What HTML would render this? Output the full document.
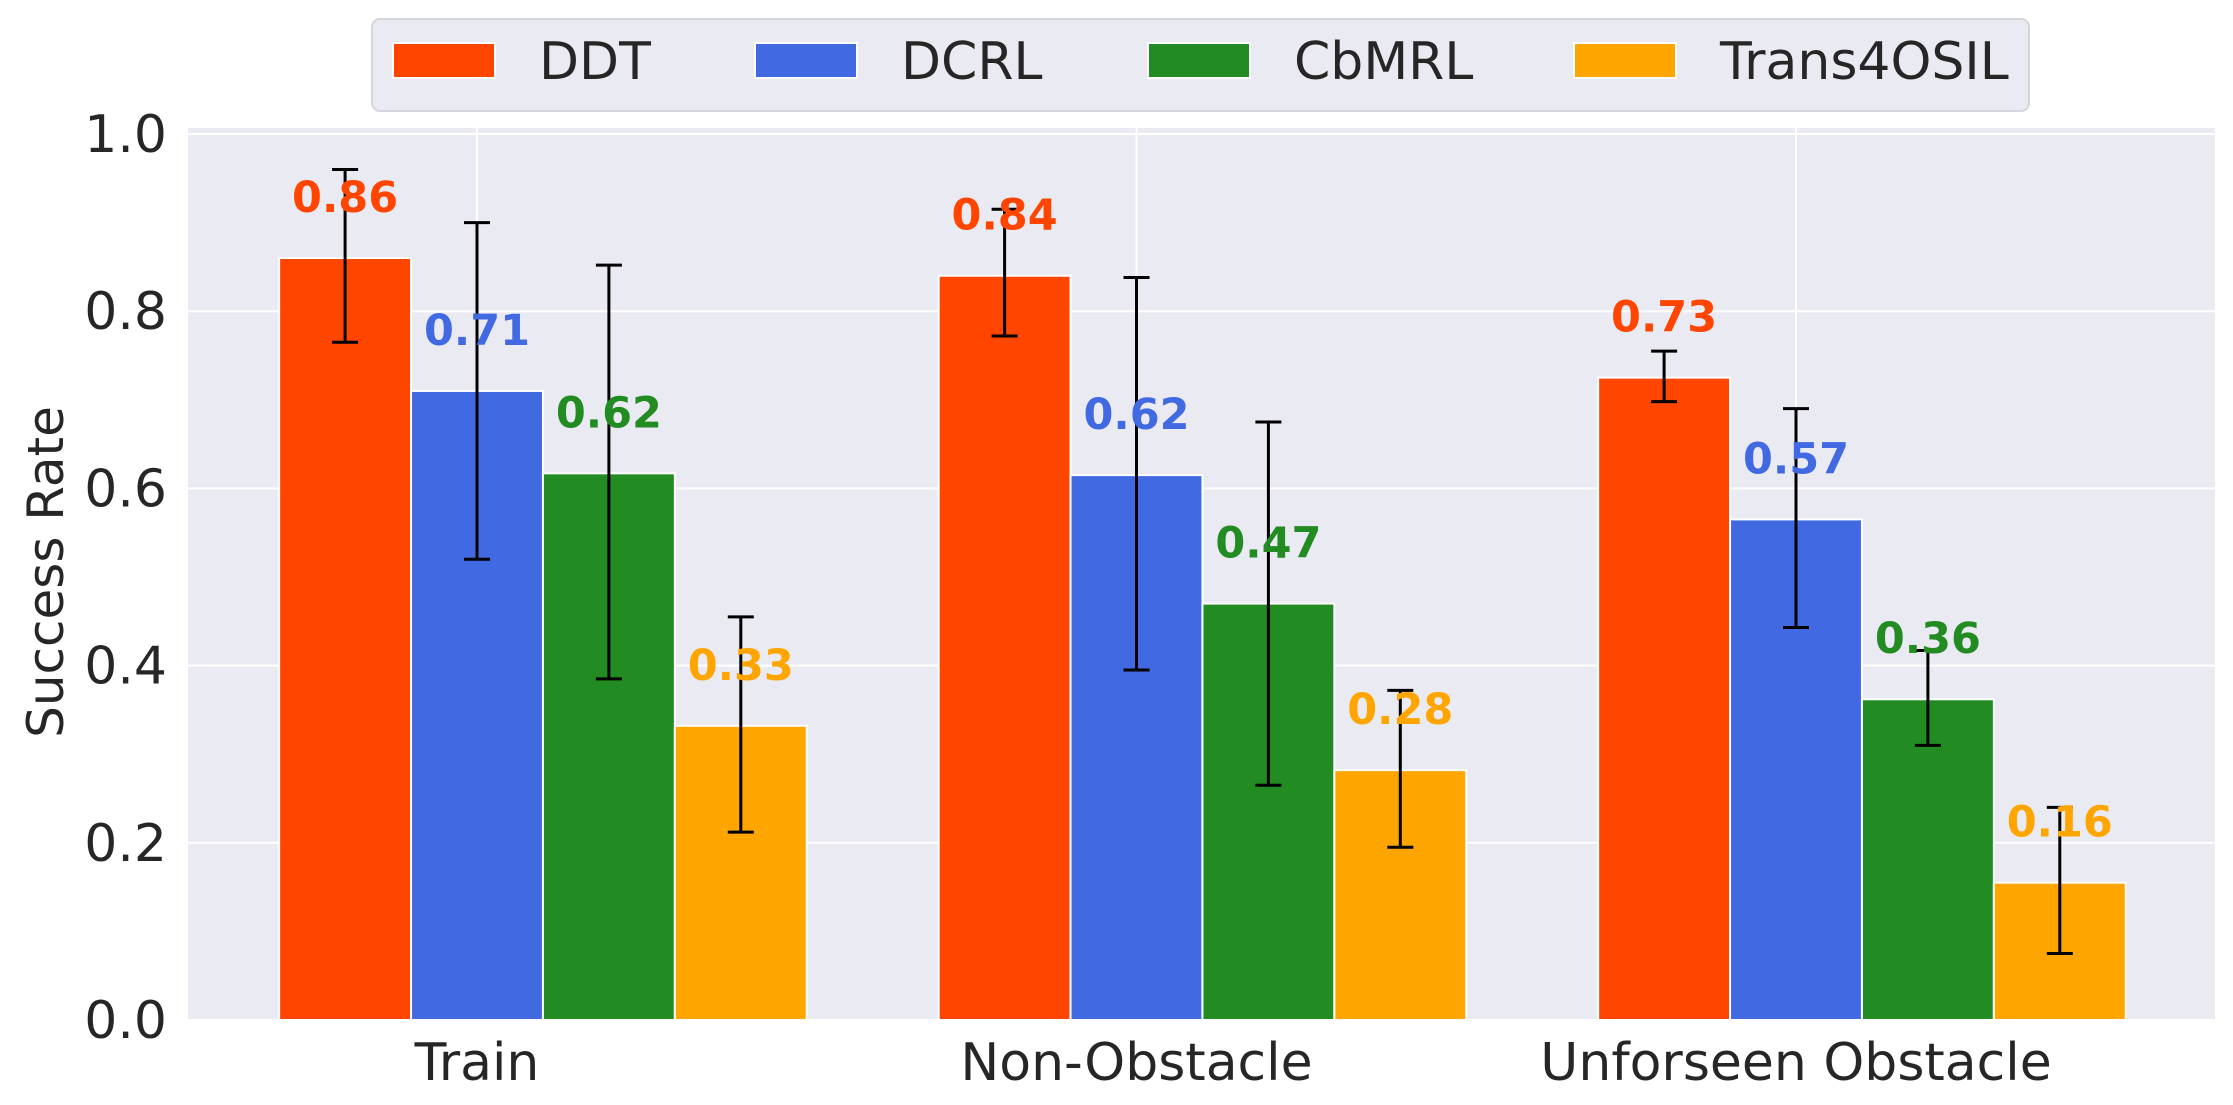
<!DOCTYPE html>
<html><head><meta charset="utf-8"><style>
body{margin:0;background:#fff}
svg text{font-family:"DejaVu Sans","Liberation Sans",sans-serif}
</style></head><body>
<svg id="chart" width="2233" height="1100" viewBox="0 0 2233 1100" xmlns="http://www.w3.org/2000/svg">
<rect x="188" y="128" width="2027" height="892" fill="#eaeaf2"/>
<g id="grid"></g><g id="bars"></g><g id="errs"></g><g id="labels"></g><g id="axes"></g>
<g id="legend"></g>
<text transform="translate(63,572) rotate(-90)" text-anchor="middle" font-size="50" fill="#262626">Success Rate</text>
</svg>
<script>
const categories=["Train","Non-Obstacle","Unforseen Obstacle"];
const series=["DDT","DCRL","CbMRL","Trans4OSIL"];
const colors=["#ff4500","#4169e1","#228b22","#ffa500"];
const ddt=[0.86,0.84,0.725];
const dcrl=[0.71,0.615,0.565];
const cbmrl=[0.617,0.47,0.362];
const trans=[0.332,0.282,0.155];
const ddtErr=[[0.765,0.96],[0.772,0.915],[0.698,0.755]];
const dcrlErr=[[0.52,0.90],[0.395,0.838],[0.443,0.69]];
const cbmrlErr=[[0.385,0.852],[0.265,0.675],[0.31,0.417]];
const transErr=[[0.212,0.455],[0.195,0.372],[0.075,0.24]];
const printed=[["0.86","0.84","0.73"],["0.71","0.62","0.57"],["0.62","0.47","0.36"],["0.33","0.28","0.16"]];
const yTicks=[0,0.2,0.4,0.6,0.8,1.0];
const vals=[ddt,dcrl,cbmrl,trans], errs=[ddtErr,dcrlErr,cbmrlErr,transErr];
const NS="http://www.w3.org/2000/svg";
const y=v=>1020-v*886;
const groupW=659.5, barW=131.9;
const x=(g,i)=>477+g*groupW+(i-1)*barW;
function mk(p,t,a){const e=document.createElementNS(NS,t);for(const k in a)e.setAttribute(k,a[k]);document.getElementById(p).appendChild(e);return e;}
yTicks.forEach(t=>{
 const l=mk('grid','line',{x1:188,x2:2215,y1:y(t),y2:y(t),stroke:'#fff','stroke-width':2});
 
 
 const tx=mk('axes','text',{x:167,y:y(t)+18,'text-anchor':'end','font-size':52,fill:'#262626'});
 
 
 tx.textContent=t.toFixed(1);
});
categories.forEach((c,g)=>{
 const l=mk('grid','line',{x1:x(g,1),x2:x(g,1),y1:128,y2:1020,stroke:'#fff','stroke-width':2});
 
 
 const tx=mk('axes','text',{x:x(g,1),y:1080,'text-anchor':'middle','font-size':52,fill:'#262626'});
 
 
 tx.textContent=c;
});
vals.forEach((arr,i)=>arr.forEach((v,g)=>{
 const cx=x(g,i);
 const r=mk('bars','rect',{x:cx-barW/2,y:y(v),width:barW,height:y(0)-y(v),fill:colors[i],stroke:'#fff','stroke-width':2});
 
 
 const [lo,hi]=errs[i][g];
 const e=mk('errs','path',{d:`M${cx},${y(lo)}V${y(hi)}M${cx-13},${y(lo)}h26M${cx-13},${y(hi)}h26`,stroke:'#000','stroke-width':3,fill:'none'});
 
 
 const t=mk('labels','text',{x:cx,y:y(v+0.07)+16,'text-anchor':'middle','font-size':43,'font-weight':'bold',fill:colors[i]});
 
 
 t.textContent=printed[i][g];
}));
const lb=mk('legend','rect',{x:372,y:19,width:1657,height:92,rx:8,fill:'#eaeaf2',stroke:'#d5d5dd','stroke-width':2});


const patchX=[393,755,1148,1574];
series.forEach((s,i)=>{
 const p=mk('legend','rect',{x:patchX[i],y:43,width:102,height:35,fill:colors[i],stroke:'#fff','stroke-width':2});
 
 
 const t=mk('legend','text',{x:patchX[i]+146,y:79,'font-size':52,fill:'#262626'});
 
 
 t.textContent=s;
});
</script>
</body></html>
